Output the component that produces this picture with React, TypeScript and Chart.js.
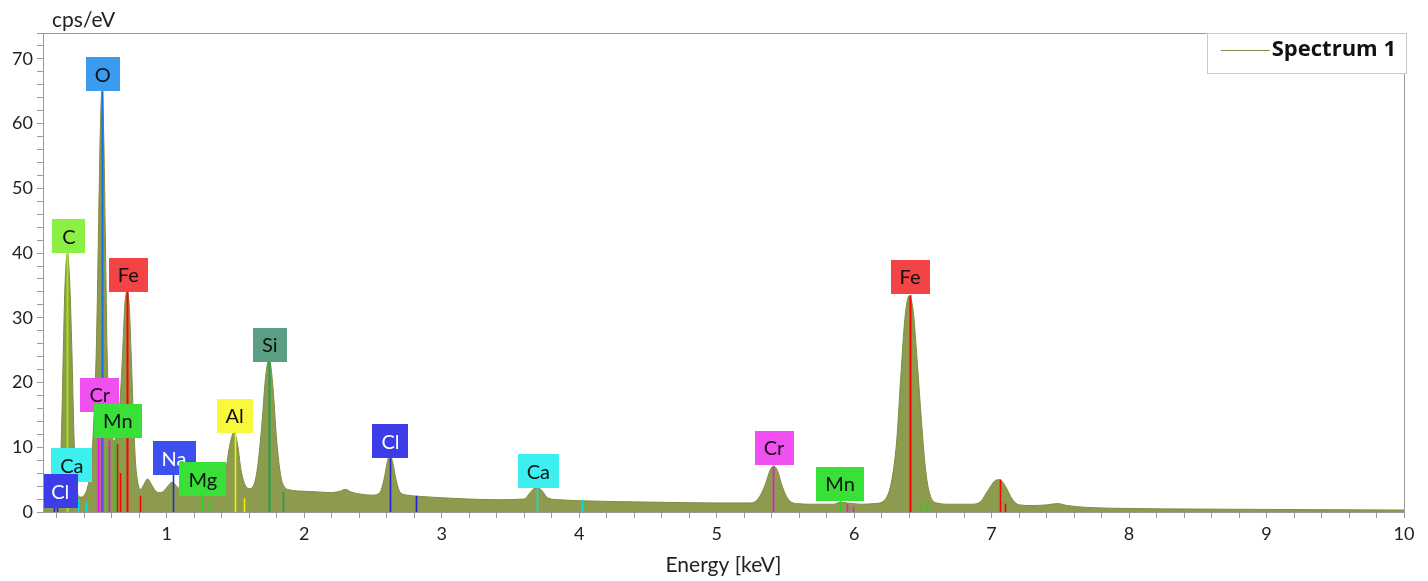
import { useEffect, useRef } from "react";
import { Chart, registerables } from "chart.js";

Chart.register(...registerables);

// ---- spectrum (energy in keV, intensity in cps/eV) ----
const ENERGY_KEV = [
  0.106, 0.14, 0.17, 0.2, 0.22, 0.23, 0.24, 0.25, 0.26, 0.278, 0.295, 0.31, 0.325, 0.34, 0.355, 0.375,
  0.4, 0.42, 0.44, 0.46, 0.475, 0.49, 0.505, 0.518, 0.53, 0.542, 0.554, 0.566, 0.58, 0.6, 0.62, 0.64,
  0.66, 0.68, 0.695, 0.712, 0.727, 0.742, 0.757, 0.772, 0.79, 0.81, 0.835, 0.86, 0.885, 0.91, 0.94,
  0.97, 1.0, 1.04, 1.08, 1.12, 1.18, 1.25, 1.3, 1.36, 1.4, 1.43, 1.46, 1.49, 1.515, 1.54, 1.57, 1.6,
  1.63, 1.66, 1.69, 1.72, 1.745, 1.77, 1.8, 1.83, 1.86, 1.9, 2.0, 2.1, 2.2, 2.26, 2.3, 2.34, 2.4, 2.5,
  2.55, 2.58, 2.61, 2.625, 2.64, 2.67, 2.7, 2.75, 2.85, 3.0, 3.2, 3.4, 3.6, 3.64, 3.67, 3.7, 3.73,
  3.77, 3.85, 4.0, 4.3, 4.6, 5.0, 5.25, 5.3, 5.35, 5.39, 5.415, 5.44, 5.48, 5.52, 5.58, 5.7, 5.85,
  5.9, 5.95, 6.05, 6.15, 6.22, 6.27, 6.31, 6.34, 6.37, 6.4, 6.43, 6.46, 6.49, 6.52, 6.55, 6.6, 6.7,
  6.85, 6.92, 6.97, 7.03, 7.06, 7.1, 7.15, 7.2, 7.3, 7.4, 7.48, 7.55, 7.7, 8.0, 8.5, 9.0, 9.5, 10.0,
];
const CPS_PER_EV = [
  0.6, 0.9, 1.2, 2.2, 5, 9, 17, 27, 35, 40, 35, 25, 12, 5, 2.6, 2.3,
  2.6, 3.5, 5.5, 10, 17, 27, 45, 60, 65, 58, 42, 25, 16, 12, 11, 12.5,
  17, 25, 32, 34, 32, 24, 15, 8, 4.5, 3.5, 4.3, 5.1, 4.4, 3.5, 3.0,
  3.1, 3.8, 4.6, 3.8, 3.3, 3.2, 3.4, 3.5, 3.6, 4.3, 6.5, 10.5, 12.3, 10.5, 6.5, 4.2, 3.6,
  4.0, 6.8, 13, 21, 23.6, 20, 11, 5.5, 3.8, 3.4, 3.2, 3.1, 3.0, 3.2, 3.5, 3.1, 2.8, 2.6,
  3.0, 5.0, 8.2, 8.6, 8.0, 4.8, 3.0, 2.6, 2.4, 2.2, 2.0, 1.9, 2.0, 2.9, 3.6, 3.7, 3.3,
  2.2, 1.9, 1.75, 1.6, 1.5, 1.4, 1.4, 2.0, 4.0, 6.5, 7.1, 6.5, 3.8, 2.0, 1.3, 1.2, 1.2,
  1.5, 1.4, 1.2, 1.3, 1.8, 4.5, 11, 21, 30, 33.4, 31, 23, 14, 6.5, 2.8, 1.4, 1.2,
  1.2, 1.6, 3.2, 4.9, 5.0, 4.0, 2.0, 1.1, 1.0, 1.1, 1.3, 1.0, 0.7, 0.55, 0.45, 0.4, 0.35, 0.3,
];

// ---- axis ticks ----
const X_TICKS = [
  0.2, 0.4, 0.6, 0.8, 1, 1.2, 1.4, 1.6, 1.8, 2, 2.2, 2.4, 2.6, 2.8, 3, 3.2, 3.4, 3.6, 3.8, 4,
  4.2, 4.4, 4.6, 4.8, 5, 5.2, 5.4, 5.6, 5.8, 6, 6.2, 6.4, 6.6, 6.8, 7, 7.2, 7.4, 7.6, 7.8, 8,
  8.2, 8.4, 8.6, 8.8, 9, 9.2, 9.4, 9.6, 9.8, 10,
];
const X_LABELLED = [1, 2, 3, 4, 5, 6, 7, 8, 9, 10];
const Y_TICKS = [
  0, 2, 4, 6, 8, 10, 12, 14, 16, 18, 20, 22, 24, 26, 28, 30, 32, 34, 36, 38, 40, 42, 44, 46, 48,
  50, 52, 54, 56, 58, 60, 62, 64, 66, 68, 70, 72, 74,
];
const Y_LABELLED = [0, 10, 20, 30, 40, 50, 60, 70];

// ---- element marker lines ----
const MARKER_ELEMENT = [
  "Cl", "Cl", "C", "Ca", "Ca", "Cr", "O", "Cr", "Mn", "Cr", "Fe", "Mn", "Fe", "Fe", "Fe",
  "Na", "Mg", "Mg", "Al", "Al", "Si", "Si", "Cl", "Cl", "Ca", "Ca", "Cr", "Mn", "Cr", "Cr",
  "Fe", "Mn", "Mn", "Fe", "Fe",
];
const MARKER_ENERGY = [
  0.183, 0.2, 0.278, 0.356, 0.41, 0.5, 0.532, 0.52, 0.569, 0.58, 0.64, 0.622, 0.712, 0.66, 0.806,
  1.049, 1.26, 1.307, 1.497, 1.56, 1.744, 1.845, 2.623, 2.815, 3.69, 4.02, 5.41, 5.898, 5.947, 5.99,
  6.404, 6.49, 6.53, 7.06, 7.1,
];
const MARKER_TOP = [
  1.0, 0.8, 40, 2.0, 1.5, 15.5, 65, 12, 10, 11, 10.5, 11.5, 34, 6, 2.5,
  5.7, 2.4, 2.0, 12.2, 2.1, 23.2, 3.1, 8.3, 2.5, 3.7, 1.9, 7.0, 1.75, 1.2, 0.8,
  33.5, 1.5, 1.3, 5.0, 1.3,
];

// ---- element labels (drawn in this order) ----
const LABEL_TEXT = ["O", "C", "Fe", "Cr", "Mn", "Ca", "Cl", "Na", "Mg", "Al", "Si", "Cl", "Ca", "Cr", "Mn", "Fe"];
const LABEL_ENERGY = [0.535, 0.288, 0.72, 0.513, 0.644, 0.31, 0.225, 1.053, 1.262, 1.494, 1.749, 2.628, 3.703, 5.418, 5.898, 6.407];
const LABEL_VALUE = [65, 40, 34, 15.5, 11.5, 4.6, 0.6, 5.7, 2.4, 12.2, 23.2, 8.3, 3.7, 7.3, 1.75, 33.7];

// ---- styles ----
const LINE_COLOR: Record<string, string> = {
  O: "#1e6ee6", C: "#a8e010", Ca: "#00e0f0", Cr: "#ff00ff", Mn: "#18d818", Fe: "#ff0000",
  Cl: "#2020e0", Na: "#2030d8", Mg: "#20e020", Al: "#f0f000", Si: "#20a050",
};
const BOX_COLOR: Record<string, string> = {
  O: "#3a9cf0", C: "#8cf044", Fe: "#f24444", Cr: "#f050f0", Mn: "#38e038", Ca: "#3cf0f0",
  Cl: "#3c3ce8", Na: "#3c50f0", Mg: "#38e038", Al: "#f8f83c", Si: "#5a9e84",
};
const BOX_INK: Record<string, string> = { Cl: "#ffffff", Na: "#ffffff" };
const FONT = "Lato, 'Open Sans', sans-serif";
const AXIS_GREY = "#9a9a9a";
const SPECTRUM_FILL = "#8c9b4e";
const SPECTRUM_LINE = "#7d8c42";

const overlay = {
  id: "overlay",
  afterDatasetsDraw(chart: any) {
    const { ctx, chartArea: a, scales } = chart;
    const x = scales.x;
    const y = scales.y;
    ctx.save();
    ctx.beginPath();
    ctx.rect(a.left, a.top, a.right - a.left, a.bottom - a.top);
    ctx.clip();
    const y0 = y.getPixelForValue(0);
    for (let i = 0; i < MARKER_ENERGY.length; i++) {
      const el = MARKER_ELEMENT[i];
      const px = Math.round(x.getPixelForValue(MARKER_ENERGY[i])) + 0.5;
      ctx.strokeStyle = LINE_COLOR[el];
      ctx.lineWidth = MARKER_TOP[i] > 20 ? 2 : 1.6;
      ctx.beginPath();
      ctx.moveTo(px, y0);
      ctx.lineTo(px, y.getPixelForValue(MARKER_TOP[i]));
      ctx.stroke();
    }
    ctx.font = `20px ${FONT}`;
    ctx.textAlign = "center";
    ctx.textBaseline = "middle";
    for (let i = 0; i < LABEL_TEXT.length; i++) {
      const t = LABEL_TEXT[i];
      const w = Math.max(33, ctx.measureText(t).width + 18);
      const h = 34;
      const cx = x.getPixelForValue(LABEL_ENERGY[i]);
      const bottom = y.getPixelForValue(LABEL_VALUE[i]);
      ctx.fillStyle = BOX_COLOR[t];
      ctx.fillRect(Math.round(cx - w / 2), Math.round(bottom - h), Math.round(w), h);
      ctx.fillStyle = BOX_INK[t] || "#111111";
      ctx.fillText(t, cx, bottom - h / 2 + 1);
    }
    ctx.restore();
  },
  afterDraw(chart: any) {
    const { ctx, chartArea: a } = chart;
    ctx.save();
    // plot frame
    ctx.strokeStyle = AXIS_GREY;
    ctx.lineWidth = 1;
    ctx.strokeRect(Math.round(a.left) + 0.5, Math.round(a.top) + 0.5, Math.round(a.right - a.left), Math.round(a.bottom - a.top));
    // y-axis unit title
    ctx.fillStyle = "#222222";
    ctx.font = `21px ${FONT}`;
    ctx.textAlign = "left";
    ctx.textBaseline = "alphabetic";
    ctx.fillText("cps/eV", a.left + 9, a.top - 6);
    // legend
    const label = chart.data.datasets[0].label;
    ctx.font = "bold 22px 'Open Sans', Lato, sans-serif";
    const tw = ctx.measureText(label).width;
    const boxRight = a.right + 2;
    const textLeft = boxRight - 10 - tw;
    const lineLeft = textLeft - 51;
    const boxLeft = lineLeft - 14;
    ctx.fillStyle = "#ffffff";
    ctx.fillRect(boxLeft, a.top, boxRight - boxLeft, 40);
    ctx.strokeStyle = "#c8c8c8";
    ctx.strokeRect(Math.round(boxLeft) + 0.5, Math.round(a.top) + 0.5, Math.round(boxRight - boxLeft), 40);
    ctx.strokeStyle = SPECTRUM_LINE;
    ctx.lineWidth = 1.2;
    ctx.beginPath();
    ctx.moveTo(lineLeft, a.top + 17.5);
    ctx.lineTo(textLeft - 2, a.top + 17.5);
    ctx.stroke();
    ctx.fillStyle = "#111111";
    ctx.textBaseline = "middle";
    ctx.fillText(label, textLeft, a.top + 17);
    ctx.restore();
  },
};

export default function App() {
  const ref = useRef<HTMLCanvasElement | null>(null);
  useEffect(() => {
    if (!ref.current) return;
    const points = ENERGY_KEV.map((e, i) => ({ x: e, y: CPS_PER_EV[i] }));
    const chart = new Chart(ref.current, {
      type: "line",
      data: {
        datasets: [
          {
            label: "Spectrum 1",
            data: points,
            fill: "origin",
            backgroundColor: SPECTRUM_FILL,
            borderColor: SPECTRUM_LINE,
            borderWidth: 1,
            pointRadius: 0,
            cubicInterpolationMode: "monotone",
          },
        ],
      },
      options: {
        animation: false,
        responsive: false,
        devicePixelRatio: 1,
        layout: { padding: { top: 33, right: 24, left: 0, bottom: 0 } },
        plugins: { legend: { display: false }, tooltip: { enabled: false } },
        scales: {
          x: {
            type: "linear",
            min: 0.1,
            max: 10,
            afterBuildTicks: (s: any) => {
              s.ticks = X_TICKS.map((v) => ({ value: v }));
            },
            afterFit: (s: any) => {
              s.height = 69;
            },
            ticks: {
              autoSkip: false,
              maxRotation: 0,
              padding: 5,
              color: "#222222",
              font: { family: FONT, size: 18 },
              callback: (v: any) => {
                const n = X_LABELLED.find((k) => Math.abs(k - Number(v)) < 1e-6);
                return n === undefined ? "" : String(n);
              },
            },
            grid: { drawOnChartArea: false, drawTicks: true, tickLength: 6, color: AXIS_GREY },
            border: { display: true, color: AXIS_GREY },
            title: {
              display: true,
              text: "Energy [keV]",
              color: "#222222",
              font: { family: FONT, size: 21 },
              padding: { top: 0, bottom: 3 },
            },
          },
          y: {
            type: "linear",
            min: 0,
            max: 74,
            afterBuildTicks: (s: any) => {
              s.ticks = Y_TICKS.map((v) => ({ value: v }));
            },
            afterFit: (s: any) => {
              s.width = 43;
            },
            ticks: {
              autoSkip: false,
              padding: 4,
              color: "#222222",
              font: { family: FONT, size: 18 },
              callback: (v: any) => (Y_LABELLED.includes(Number(v)) ? String(v) : ""),
            },
            grid: { drawOnChartArea: false, drawTicks: true, tickLength: 6, color: AXIS_GREY },
            border: { display: true, color: AXIS_GREY },
          },
        },
      },
      plugins: [overlay],
    });
    return () => chart.destroy();
  }, []);
  return (
    <div style={{ position: "fixed", left: 0, top: 0, width: 1428, height: 581, background: "#ffffff" }}>
      <canvas ref={ref} width={1428} height={581} style={{ display: "block" }} />
    </div>
  );
}
